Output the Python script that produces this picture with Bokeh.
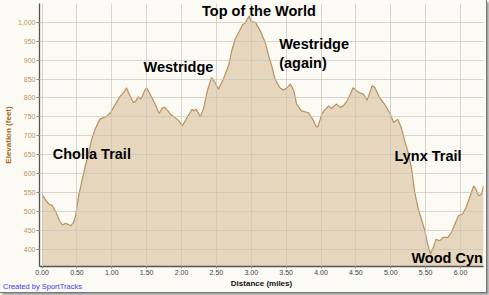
from bokeh.plotting import figure
from bokeh.models import Range1d, FixedTicker, NumeralTickFormatter, Label, Div
from bokeh.layouts import column
from bokeh.embed import file_html
from bokeh.resources import INLINE

dist = [0.00, 0.05, 0.10, 0.15, 0.21, 0.25, 0.29, 0.33, 0.37, 0.41, 0.45, 0.48, 0.52, 0.57,
        0.62, 0.67, 0.71, 0.76, 0.83, 0.88, 0.93, 0.98, 1.05, 1.12, 1.17, 1.21, 1.25, 1.31,
        1.34, 1.38, 1.42, 1.47, 1.50, 1.55, 1.62, 1.68, 1.72, 1.76, 1.80, 1.84, 1.91, 1.96,
        2.01, 2.08, 2.15, 2.18, 2.21, 2.27, 2.32, 2.37, 2.43, 2.48, 2.53, 2.60, 2.68, 2.72,
        2.77, 2.83, 2.88, 2.91, 2.95, 2.97, 3.00, 3.06, 3.13, 3.20, 3.25, 3.30, 3.34, 3.41,
        3.46, 3.51, 3.56, 3.61, 3.65, 3.72, 3.82, 3.88, 3.94, 3.96, 4.01, 4.06, 4.11, 4.15,
        4.22, 4.27, 4.32, 4.37, 4.42, 4.46, 4.51, 4.57, 4.61, 4.66, 4.70, 4.73, 4.77, 4.84,
        4.91, 4.99, 5.04, 5.10, 5.15, 5.20, 5.25, 5.30, 5.34, 5.39, 5.44, 5.49, 5.53, 5.57,
        5.61, 5.65, 5.70, 5.75, 5.82, 5.87, 5.91, 5.97, 6.03, 6.08, 6.13, 6.19, 6.22, 6.26,
        6.30, 6.33]
elev = [545, 530, 519, 515, 493, 475, 464, 468, 466, 462, 470, 488, 536, 580,
        620, 655, 690, 717, 744, 748, 752, 761, 783, 805, 814, 827, 810, 788,
        791, 803, 797, 819, 827, 810, 784, 759, 773, 775, 767, 757, 748, 740,
        726, 748, 770, 766, 770, 750, 775, 819, 854, 841, 823, 850, 889, 925,
        956, 977, 995, 997, 1011, 1017, 1002, 1000, 977, 947, 911, 880, 850, 827,
        821, 826, 837, 819, 784, 766, 761, 744, 722, 726, 757, 770, 779, 772,
        784, 775, 779, 792, 810, 827, 819, 812, 810, 794, 814, 832, 828, 801,
        784, 759, 735, 744, 722, 687, 655, 612, 554, 510, 479, 448, 413, 387,
        404, 426, 422, 431, 431, 444, 462, 488, 493, 510, 536, 567, 559, 541,
        545, 567]

x_ticks = [0.0, 0.5, 1.0, 1.5, 2.0, 2.5, 3.0, 3.5, 4.0, 4.5, 5.0, 5.5, 6.0]
y_ticks = [400, 450, 500, 550, 600, 650, 700, 750, 800, 850, 900, 950, 1000]

place_names = ["Top of the World", "Westridge", "Westridge\n(again)", "Cholla Trail",
               "Lynx Trail", "Wood Cyn"]
place_x = [3.11, 1.955, 3.40, 0.153, 5.053, 5.296]
place_y = [1030, 881, 964, 651, 646, 376]
place_align = ["center", "center", "left", "left", "left", "left"]
place_base = ["middle", "middle", "top", "middle", "middle", "middle"]

BG = "#fbfaf5"

p = figure(width=486, height=290, output_backend="svg", toolbar_location=None,
           x_range=Range1d(-0.037, 6.33), y_range=Range1d(354, 1050),
           min_border_left=37, min_border_right=3, min_border_top=3, min_border_bottom=24,
           background_fill_color=BG, border_fill_color=BG, outline_line_color=None)

p.varea(x=dist, y1=300, y2=elev, fill_color="#e6d6be")
p.line(x=dist, y=elev, line_color="#b8925a", line_width=1.2)

for g in (p.xgrid, p.ygrid):
    g.grid_line_color = "#c9c4ba"
    g.grid_line_alpha = 0.7
    g.level = "guide"

p.xaxis.ticker = FixedTicker(ticks=x_ticks)
p.yaxis.ticker = FixedTicker(ticks=y_ticks)
p.xaxis.formatter = NumeralTickFormatter(format="0.00")
p.yaxis.formatter = NumeralTickFormatter(format="0,0")

for ax in (p.xaxis, p.yaxis):
    ax.axis_line_color = "#555555"
    ax.axis_line_width = 1.3
    ax.minor_tick_line_color = None
    ax.major_tick_in = 0
    ax.major_tick_line_color = "#888888"
    ax.major_label_text_font = "Liberation Sans"
    ax.major_label_text_font_size = "7px"
    ax.axis_label_text_font = "Liberation Sans"
    ax.axis_label_text_font_size = "8px"
    ax.axis_label_text_font_style = "bold"

p.xaxis.major_tick_out = 2
p.xaxis.major_label_standoff = 1
p.xaxis.axis_label = "Distance (miles)"
p.xaxis.axis_label_standoff = 1
p.xaxis.major_label_text_color = "#444444"
p.xaxis.axis_label_text_color = "#111111"

p.yaxis.major_tick_out = 3
p.yaxis.major_label_standoff = 1
p.yaxis.axis_label = "Elevation (feet)"
p.yaxis.axis_label_standoff = 2
p.yaxis.major_label_text_color = "#bc9459"
p.yaxis.axis_label_text_color = "#a8671f"

for name, lx, ly, al, bl in zip(place_names, place_x, place_y, place_align, place_base):
    p.add_layout(Label(x=lx, y=ly, text=name, text_align=al, text_baseline=bl,
                       text_font="Liberation Sans", text_font_style="bold",
                       text_font_size="14.5px", text_color="#000000"))

credit = Div(text="Created by SportTracks", width=120, height=10, margin=(-8, 0, 0, 3),
             styles={"color": "#3a3af0", "font-family": "Liberation Sans",
                     "font-size": "7.5px", "line-height": "10px", "white-space": "nowrap"})

layout = column(p, credit, spacing=0,
                styles={"border-right": "1px solid #777777", "border-bottom": "1px solid #777777",
                        "box-shadow": "2px 2px 2px #9a9a9a", "background-color": BG})

open("out.html", "w").write(file_html(layout, INLINE))
